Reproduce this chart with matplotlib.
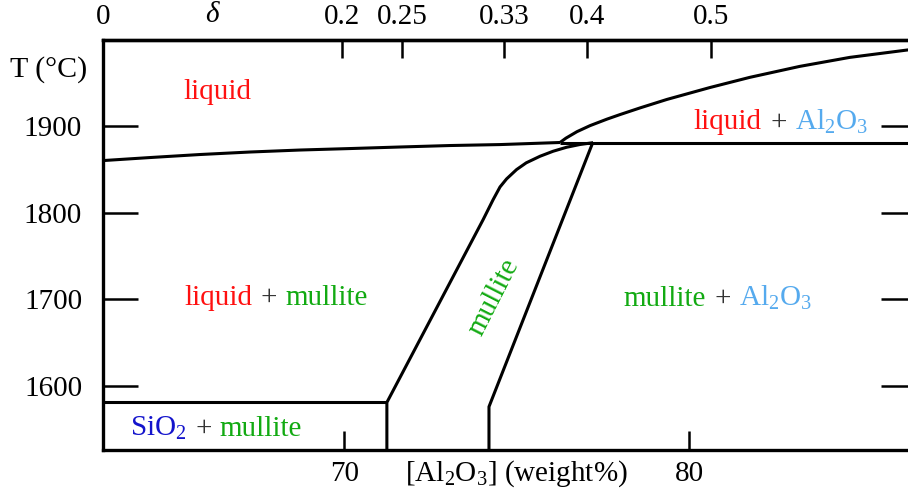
import matplotlib
matplotlib.use("Agg")
import matplotlib.pyplot as plt
from matplotlib.offsetbox import TextArea, HPacker, AnnotationBbox

plt.rcParams['font.family'] = 'Liberation Serif'
plt.rcParams['mathtext.fontset'] = 'custom'
plt.rcParams['mathtext.rm'] = 'Liberation Serif'
plt.rcParams['mathtext.it'] = 'Liberation Serif:italic'
plt.rcParams['mathtext.bf'] = 'Liberation Serif:bold'

# phase boundaries, wt% Al2O3 vs temperature (deg C)
liq_left_wt = [63.0, 64.36, 65.81, 67.26, 68.71, 70.16, 71.61, 73.06, 74.51, 76.25]
liq_left_T = [1860.6, 1864.1, 1867.6, 1870.5, 1872.8, 1874.5, 1876.3, 1878.0, 1879.1, 1881.5]

liq_right_wt = [76.25, 76.42, 76.74, 77.12, 77.61, 77.99, 78.57, 79.35,
                80.59, 81.75, 83.20, 84.65, 86.33, 86.6]
liq_right_T = [1881.5, 1886.5, 1894.0, 1901.0, 1908.5, 1913.8, 1921.5, 1931.3,
               1945.0, 1956.8, 1969.5, 1979.9, 1988.5, 1989.8]

peritectic_wt = [76.25, 86.6]
peritectic_T = [1881.5, 1881.5]

mull_left_wt = [71.23, 71.23, 74.02, 74.31, 74.51, 74.70, 74.99, 75.27,
                75.67, 76.05, 76.44, 76.83, 77.21]
mull_left_T = [1500, 1581, 1792.3, 1815.4, 1830.1, 1839.4, 1850.2, 1858.0,
               1865.6, 1871.4, 1876.0, 1879.2, 1881.3]

mull_right_wt = [74.19, 74.19, 77.2]
mull_right_T = [1500, 1576, 1881.5]

eutectic_wt = [63.0, 71.23]
eutectic_T = [1581, 1581]

T_ticks = [1600, 1700, 1800, 1900]
wt_ticks = [70, 80]
delta_pos = [63.0, 69.92, 71.68, 74.63, 77.02, 80.64]
delta_labels = ['0', '0.2', '0.25', '0.33', '0.4', '0.5']

RED = '#ff1010'
GREEN = '#12aa12'
LBLUE = '#55aaee'
BLUE = '#1414cc'
PLUS = '#333333'
FS = 21

fig = plt.figure(figsize=(9.08, 4.93), dpi=100)
ax = fig.add_axes([103 / 908, 43 / 493, 813 / 908, 410 / 493])
ax.set_xlim(63.0, 86.57)
ax.set_ylim(1526, 2000)

lw = 2.2
for xs, ys in [(liq_left_wt, liq_left_T), (liq_right_wt, liq_right_T),
               (peritectic_wt, peritectic_T), (mull_left_wt, mull_left_T),
               (mull_right_wt, mull_right_T), (eutectic_wt, eutectic_T)]:
    ax.plot(xs, ys, color='black', lw=lw, solid_capstyle='butt',
            solid_joinstyle='round')

for side in ['left', 'top', 'bottom']:
    ax.spines[side].set_linewidth(2.4)
ax.spines['right'].set_visible(False)

ax.set_yticks(T_ticks)
ax.tick_params(axis='y', direction='in', left=True, right=True, length=25,
               width=1.8, labelsize=FS, pad=15)
ax.set_xticks(wt_ticks)
ax.tick_params(axis='x', direction='in', length=14, width=1.8,
               labelsize=FS, pad=8)

sec = ax.secondary_xaxis('top')
sec.set_xticks(delta_pos, delta_labels)
sec.tick_params(direction='in', length=13, width=1.8, labelsize=FS, pad=7)
sec.spines['top'].set_linewidth(2.4)

ax.annotate(r'$\delta$', xy=(66.19, 1), xycoords=('data', 'axes fraction'),
            xytext=(0, 9), textcoords='offset points', ha='center',
            va='bottom', fontsize=FS)

ax.annotate('T (°C)', xy=(0, 1966), xycoords=('axes fraction', 'data'),
            xytext=(-11, 0), textcoords='offset points', ha='right',
            va='center', fontsize=FS + 0.5)
ax.annotate(r'[Al$_2$O$_3$] (weight%)', xy=(75.0, 0),
            xycoords=('data', 'axes fraction'), xytext=(0, -22.3),
            textcoords='offset points', ha='center', va='baseline',
            fontsize=FS)


def multi_label(x, y, parts):
    areas = [TextArea(s, textprops=dict(color=c, fontsize=FS)) for s, c in parts]
    box = HPacker(children=areas, align='baseline', pad=0, sep=6)
    ab = AnnotationBbox(box, (x, y), xycoords='data', frameon=False,
                        box_alignment=(0.5, 0.5), pad=0)
    ax.add_artist(ab)


ax.text(66.33, 1939.4, 'liquid', color=RED, fontsize=FS, ha='center', va='center')
multi_label(82.65, 1905.8, [('liquid', RED), ('+', PLUS), (r'Al$_2$O$_3$', LBLUE)])
multi_label(68.01, 1701.9, [('liquid', RED), ('+', PLUS), ('mullite', GREEN)])
multi_label(80.83, 1701.9, [('mullite', GREEN), ('+', PLUS), (r'Al$_2$O$_3$', LBLUE)])
multi_label(66.28, 1551.3, [(r'SiO$_2$', BLUE), ('+', PLUS), ('mullite', GREEN)])
ax.text(74.33, 1703, 'mullite', color=GREEN, fontsize=FS, rotation=63,
        ha='center', va='center', rotation_mode='anchor')

fig.savefig('out.png', dpi=100)
